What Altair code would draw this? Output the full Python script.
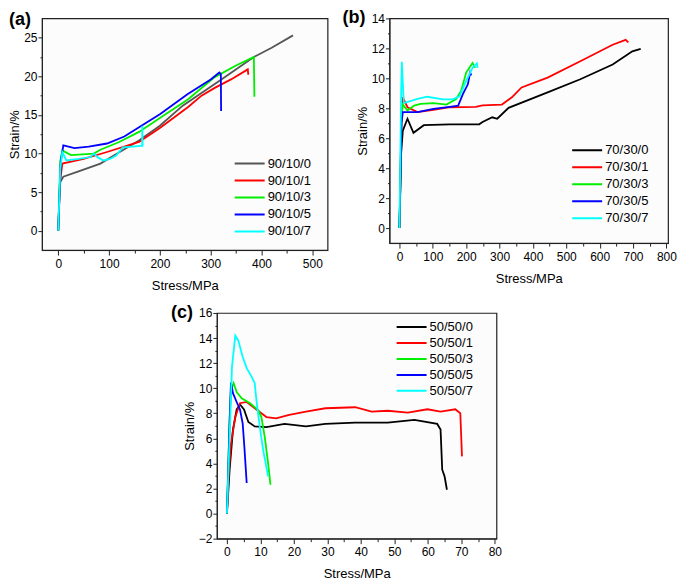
import altair as alt
import pandas as pd

FONT = "Liberation Sans"

# ---------------- Panel (a): 90/10 ----------------
a_names = ["90/10/0", "90/10/1", "90/10/3", "90/10/5", "90/10/7"]
a_colors = ["#555555", "#ff0000", "#00ee00", "#0000ff", "#00ffff"]
a0_x = [0, 2, 4, 10, 40, 83, 121, 159, 200, 245, 321, 385, 420, 462]
a0_y = [0, 4.0, 6.3, 7.0, 7.7, 8.7, 10.2, 11.7, 13.6, 16.2, 19.6, 22.5, 23.7, 25.3]
a1_x = [0, 3, 8, 50, 96, 159, 200, 255, 282, 308, 340, 373, 374]
a1_y = [0, 6.0, 8.7, 9.3, 10.2, 11.5, 13.3, 16.0, 17.5, 18.5, 19.6, 20.9, 20.2]
a3_x = [0, 4, 8, 25, 70, 83, 120, 159, 200, 255, 308, 350, 385, 386]
a3_y = [0, 9.0, 10.4, 9.8, 10.0, 10.5, 11.5, 12.8, 14.6, 17.0, 19.9, 21.4, 22.5, 17.35]
a5_x = [0, 5, 10, 32, 60, 96, 130, 159, 200, 255, 300, 317, 320, 320.5]
a5_y = [0, 9.0, 11.05, 10.7, 10.9, 11.3, 12.2, 13.4, 15.1, 17.7, 19.6, 20.5, 20.3, 15.5]
a7_x = [0, 4, 8, 16, 40, 64, 70, 78, 89, 102, 114, 127, 146, 162, 165, 165.5, 166]
a7_y = [0, 8.0, 10.2, 9.1, 9.3, 9.55, 10.0, 9.5, 9.1, 9.3, 9.75, 10.8, 10.9, 11.0, 11.0, 13.6, 10.9]

# ---------------- Panel (b): 70/30 ----------------
b_names = ["70/30/0", "70/30/1", "70/30/3", "70/30/5", "70/30/7"]
b_colors = ["#000000", "#ff0000", "#00ee00", "#0000ff", "#00ffff"]
b0_x = [0, 5, 10, 24, 42, 73, 151, 239, 249, 278, 293, 327, 444, 542, 639, 698, 723]
b0_y = [0, 5.0, 6.5, 7.3, 6.36, 6.87, 6.93, 6.93, 7.08, 7.4, 7.3, 8.03, 9.06, 9.94, 10.92, 11.8, 11.97]
b1_x = [0, 6, 10, 24, 54, 102, 151, 229, 249, 307, 337, 366, 444, 542, 639, 678, 686]
b1_y = [0, 7.0, 8.73, 8.07, 7.74, 7.9, 8.07, 8.1, 8.2, 8.25, 8.73, 9.39, 10.05, 11.14, 12.24, 12.57, 12.4]
b3_x = [0, 6, 10, 24, 44, 63, 102, 141, 170, 185, 200, 219, 227]
b3_y = [0, 7.5, 8.25, 7.85, 8.18, 8.3, 8.35, 8.25, 8.62, 9.17, 10.38, 11.03, 10.7]
b5_x = [0, 6, 10, 54, 102, 151, 176, 190, 205, 212, 215]
b5_y = [0, 7.0, 7.74, 7.74, 7.96, 8.1, 8.18, 8.95, 9.6, 10.38, 10.2]
b7_x = [0, 5, 7, 13, 54, 83, 131, 160, 180, 200, 219, 232, 234]
b7_y = [0, 9.0, 11.1, 8.35, 8.62, 8.77, 8.6, 8.6, 8.8, 9.83, 10.7, 11.0, 10.7]

# ---------------- Panel (c): 50/50 ----------------
c_names = ["50/50/0", "50/50/1", "50/50/3", "50/50/5", "50/50/7"]
c_colors = ["#000000", "#ff0000", "#00ee00", "#0000ff", "#00ffff"]
c0_x = [0, 0.8, 1.8, 2.9, 3.9, 5.1, 6.4, 8.3, 11.8, 17.2, 23.6, 29.4, 38.3, 48, 56, 62.8, 63.8, 64.3, 65, 65.7]
c0_y = [0, 3.5, 6.7, 8.3, 8.7, 8.3, 7.3, 6.95, 6.9, 7.15, 6.95, 7.15, 7.26, 7.26, 7.47, 7.15, 6.7, 3.5, 2.97, 1.9]
c1_x = [0, 0.5, 1.2, 2.5, 3.9, 5.9, 8.8, 11.8, 14.7, 18.6, 23.6, 29.4, 38.3, 43.2, 48, 54, 59.9, 63.8, 68.2, 69.7, 70.2]
c1_y = [0, 3.0, 5.6, 7.7, 8.8, 8.9, 8.3, 7.7, 7.6, 7.87, 8.13, 8.4, 8.48, 8.13, 8.2, 8.05, 8.32, 8.13, 8.32, 8.0, 4.56]
c3_x = [0, 0.8, 1.2, 2.0, 2.9, 4.4, 6.9, 9.3, 10.3, 11.3, 12.3, 13.0]
c3_y = [0, 7.7, 9.85, 10.4, 9.7, 9.2, 8.8, 8.26, 7.7, 6.1, 4.0, 2.3]
c5_x = [0, 0.8, 1.2, 1.8, 2.9, 3.9, 4.7, 5.2, 5.9]
c5_y = [0, 7.2, 10.46, 9.6, 8.9, 8.3, 7.2, 5.35, 2.44]
c7_x = [0, 1.0, 1.5, 2.5, 3.4, 4.7, 5.9, 7.4, 8.3, 8.8, 9.8, 10.8, 12.3]
c7_y = [0, 7.7, 11.7, 14.2, 13.8, 12.5, 11.6, 10.9, 10.4, 9.06, 6.94, 5.1, 2.97]


def frame(names, xs, ys):
    rows = []
    for n, xl, yl in zip(names, xs, ys):
        for i, (xv, yv) in enumerate(zip(xl, yl)):
            rows.append({"series": n, "stress": xv, "strain": yv, "i": i})
    return pd.DataFrame(rows)


def panel(df, names, colors, xdom, ydom, xvals, yvals, xmaj, ymaj, w, h,
          label, tdx, toff, lx, ly, lclip):
    mx = f"abs(datum.value % {xmaj}) < 1e-6"
    my = f"abs(datum.value % {ymaj}) < 1e-6"
    x = alt.X("stress:Q",
              scale=alt.Scale(domain=xdom, nice=False, zero=False),
              axis=alt.Axis(values=xvals, title="Stress/MPa",
                            labelExpr=f"{mx} ? datum.label : ''",
                            tickSize={"condition": {"test": mx, "value": 5}, "value": 3},
                            labelPadding=3, titlePadding=10, grid=False))
    y = alt.Y("strain:Q",
              scale=alt.Scale(domain=ydom, nice=False, zero=False),
              axis=alt.Axis(values=yvals, title="Strain/%",
                            labelExpr=f"{my} ? datum.label : ''",
                            tickSize={"condition": {"test": my, "value": 4}, "value": 2},
                            labelPadding=1, titlePadding=2, grid=False))
    color = alt.Color("series:N",
                      scale=alt.Scale(domain=names, range=colors),
                      sort=names,
                      legend=alt.Legend(title=None, orient="none", legendX=lx, legendY=ly,
                                        symbolType="stroke", symbolSize=900,
                                        symbolStrokeWidth=2, labelFontSize=13,
                                        labelFont=FONT, labelOffset=2, padding=0,
                                        clipHeight=lclip, rowPadding=0))
    return alt.Chart(df).mark_line(strokeWidth=1.8).encode(
        x=x, y=y, color=color, order="i:Q", detail="series:N"
    ).properties(
        width=w, height=h,
        title=alt.TitleParams(label, anchor="start", frame="group", fontSize=18,
                              fontWeight="bold", font=FONT, dx=tdx, offset=toff,
                              color="black"),
    )


da = frame(a_names, [a0_x, a1_x, a3_x, a5_x, a7_x], [a0_y, a1_y, a3_y, a5_y, a7_y])
db = frame(b_names, [b0_x, b1_x, b3_x, b5_x, b7_x], [b0_y, b1_y, b3_y, b5_y, b7_y])
dc = frame(c_names, [c0_x, c1_x, c3_x, c5_x, c7_x], [c0_y, c1_y, c3_y, c5_y, c7_y])

pa = panel(da, a_names, a_colors, [-32, 530], [-2.5, 27.5],
           [v * 50 for v in range(0, 11)], [v * 2.5 for v in range(0, 11)], 100, 5,
           286, 232, "(a)", -33, -11, 192, 137, 16.7)
pb = panel(db, b_names, b_colors, [-30, 805], [-1, 14],
           [v * 50 for v in range(0, 17)], list(range(0, 15)), 100, 2,
           279, 225, "(b)", -47, -15, 182, 124, 16.3)
pc = panel(dc, c_names, c_colors, [-3, 80.5], [-2, 16],
           [v * 5 for v in range(0, 17)], list(range(-2, 17)), 10, 2,
           280, 226, "(c)", -46, -15, 179, 6, 16)

top = alt.hconcat(pa, pb, spacing=13).resolve_scale(color="independent", x="independent", y="independent").resolve_legend(color="independent")
chart = alt.vconcat(top, pc, spacing=10, center=True).resolve_scale(
    color="independent", x="independent", y="independent"
).resolve_legend(color="independent").properties(padding=0).configure_view(
    stroke="#222222", strokeWidth=1.2, fill="#fcfcfc"
).configure_axis(
    domainColor="#222222", tickColor="#222222", labelFont=FONT, labelFontSize=12,
    labelColor="black", titleFont=FONT, titleFontSize=13, titleFontWeight="normal",
    titleColor="black"
).configure_legend(labelColor="black")

chart.save("out.html", embed_options={"renderer": "svg", "actions": False})
